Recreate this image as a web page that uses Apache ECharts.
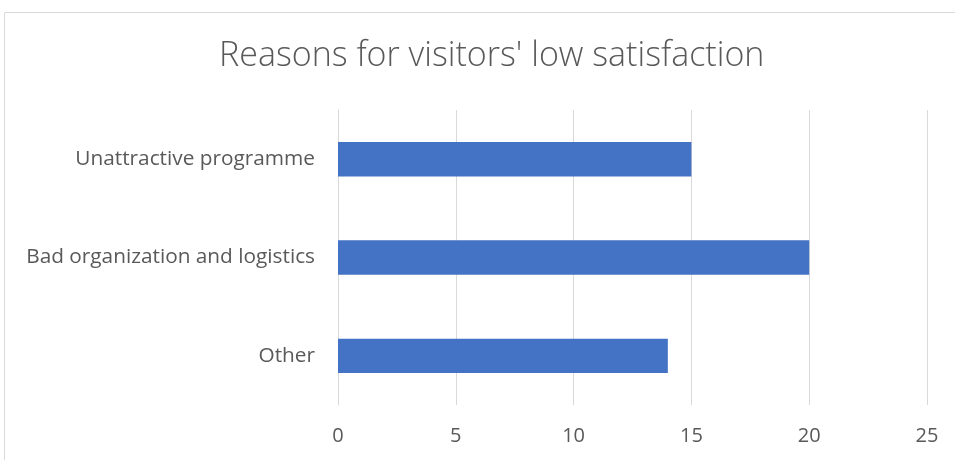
<!DOCTYPE html>
<html><head><meta charset="utf-8">
<script src="https://cdn.jsdelivr.net/npm/echarts@6/dist/echarts.min.js"></script>
<style>html,body{margin:0;padding:0;background:#fff}#c{width:955px;height:460px}</style>
</head><body><div id="c"></div>
<script>
const categories = ['Unattractive programme', 'Bad organization and logistics', 'Other'];
const values = [15, 20, 14];
const xTicks = [0, 5, 10, 15, 20, 25];
const titleText = "Reasons for visitors' low satisfaction";

const chart = echarts.init(document.getElementById('c'), null, {renderer: 'canvas'});
const font = "'Open Sans', 'Liberation Sans', sans-serif";
chart.setOption({
  animation: false,
  backgroundColor: '#fff',
  graphic: [{
    type: 'polyline', silent: true,
    shape: {points: [[4.5, 470], [4.5, 12.5], [970, 12.5]]},
    style: {stroke: '#d9d9d9', lineWidth: 1, fill: null}
  }],
  title: {
    text: titleText, left: 214, top: 34,
    textStyle: {fontFamily: font, fontWeight: 300, fontSize: 34, color: '#595959'}
  },
  grid: {left: 338, right: 28, top: 110, bottom: 55},
  xAxis: {
    type: 'value', min: xTicks[0], max: xTicks[xTicks.length - 1], interval: 5,
    axisLine: {show: false}, axisTick: {show: false},
    splitLine: {lineStyle: {color: '#d9d9d9', width: 1}},
    axisLabel: {fontFamily: font, fontSize: 20, color: '#595959', margin: 21}
  },
  yAxis: {
    type: 'category', data: categories, inverse: true,
    axisLine: {show: true, lineStyle: {color: '#d9d9d9'}}, axisTick: {show: false},
    axisLabel: {fontFamily: font, fontSize: 20.8, color: '#595959', margin: 23}
  },
  series: [{
    type: 'bar', data: values, barWidth: '35%',
    itemStyle: {color: '#4472c4'}
  }]
});
</script></body></html>
